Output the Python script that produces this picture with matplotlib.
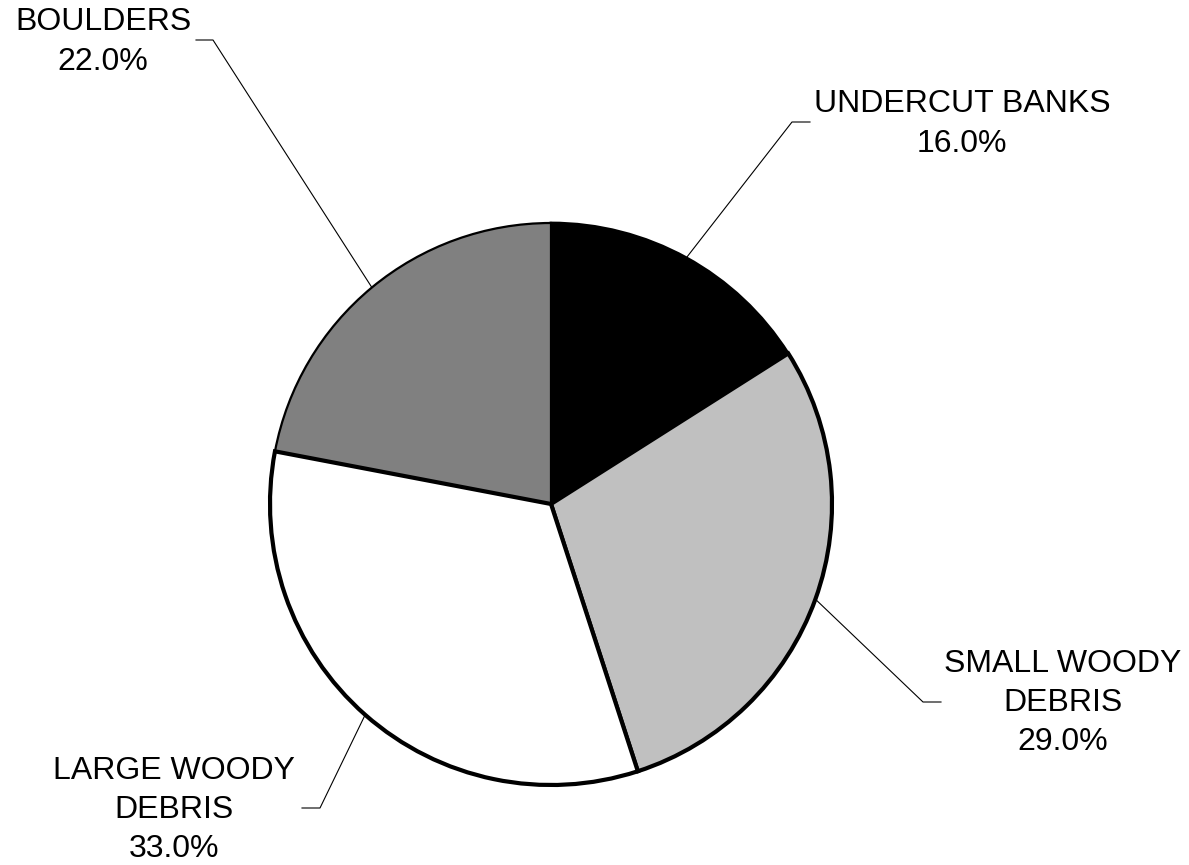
import numpy as np
import matplotlib as mpl
import matplotlib.pyplot as plt

mpl.rcParams['font.family'] = ['Liberation Sans', 'DejaVu Sans']

# cover type shares, clockwise from 12 o'clock
labels = ['UNDERCUT BANKS', 'SMALL WOODY\nDEBRIS', 'LARGE WOODY\nDEBRIS', 'BOULDERS']
shares = [16.0, 29.0, 33.0, 22.0]
colors = ['#000000', '#c0c0c0', '#ffffff', '#808080']
edge_widths = [2.0, 3.0, 3.0, 1.6]

W, H = 1189, 865
cx, cy, r = 551, 504, 281   # pie centre / radius in pixels

# label anchor (text centre), elbow and end of leader, in pixels
text_pos = [(962, 124), (1063, 703), (174, 810), (103, 42)]
elbows = [(792, 122), (923, 702), (320, 808), (213, 40)]
ends = [(810, 122), (941, 702), (302, 808), (196, 40)]

def px(p):
    return ((p[0] - cx) / r, (cy - p[1]) / r)

fig = plt.figure(figsize=(W / 100, H / 100), dpi=100)
ax = fig.add_axes([(cx - r) / W, (H - cy - r) / H, 2 * r / W, 2 * r / H])

wedges, _ = ax.pie(shares, colors=colors, startangle=90, counterclock=False,
                   radius=1, wedgeprops=dict(edgecolor='black'))
for w, lw in zip(wedges, edge_widths):
    w.set_linewidth(lw)
    w.set_joinstyle('miter')
wedges[1].set_zorder(3)
wedges[2].set_zorder(3)

total = sum(shares)
start = 0.0
for i, (lab, v) in enumerate(zip(labels, shares)):
    mid = np.radians(start + 360 * v / total / 2)
    start += 360 * v / total
    edge = (np.sin(mid), np.cos(mid))
    e = px(elbows[i])
    t = px(ends[i])
    ax.plot([edge[0], e[0], t[0]], [edge[1], e[1], t[1]], color='black',
            lw=0.8, clip_on=False, zorder=4)
    tx, ty = px(text_pos[i])
    ax.text(tx, ty, f'{lab}\n{v:.1f}%', ha='center', va='center',
            fontsize=23, linespacing=1.4, clip_on=False)

ax.set_xlim(-1, 1)
ax.set_ylim(-1, 1)
ax.set_aspect('auto')
ax.axis('off')

fig.savefig('out.png', dpi=100, facecolor='white')
